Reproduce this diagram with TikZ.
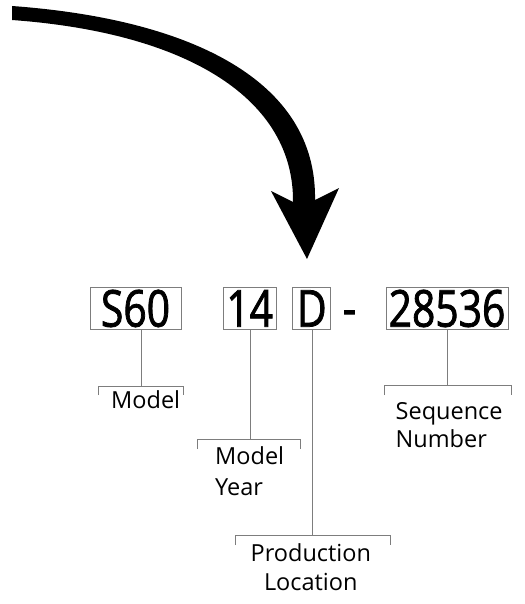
\documentclass[tikz,border=0pt]{standalone}
\usepackage{fontspec}
\setmainfont{Open Sans}
\newfontfamily\digitfont[FakeStretch=0.8, FakeBold=1.5]{Open Sans}
\definecolor{linegray}{RGB}{125,125,125}
\begin{document}
\begin{tikzpicture}[x=1pt,y=-1pt,
  codebox/.style={draw=linegray, line width=1pt, inner sep=0pt, text height=36.4pt, text depth=0pt,
     font=\digitfont\fontsize{51}{51}\selectfont, text=black},
  labeltext/.style={inner sep=0pt, font=\fontsize{23.5}{28}\selectfont, text=black},
  bracketline/.style={draw=linegray, line width=1pt}]
\useasboundingbox (0,0) rectangle (524,604);

% big curved arrow
\fill[black] (12,6) .. controls (190,19) and (317,80) .. (315,200)
  -- (339,188) -- (307,259) -- (271,191) -- (293,202)
  .. controls (294,100) and (190,33) .. (12,20) -- cycle;

% code boxes
\node[codebox, minimum width=91pt, minimum height=41.6pt] (s60) at (135.5,308.5) {S60};
\node[codebox, minimum width=52.7pt, minimum height=41.6pt] (yr) at (249.7,308.5) {14};
\node[codebox, minimum width=38.3pt, minimum height=41.6pt] (loc) at (311.8,308.5) {D};
\node[inner sep=0pt, anchor=base, font=\digitfont\fontsize{51}{51}\selectfont] (dash) at (349.5,326) {-};
\node[codebox, minimum width=122pt, minimum height=41.6pt] (seq) at (447,308.5) {28536};

% bracket centres
\coordinate (bm) at (141,386.7);
\coordinate (by) at (250.3,439.3);
\coordinate (bp) at (312.3,535);
\coordinate (bs) at (447.7,385);

% stems
\draw[bracketline] (s60.south -| bm) -- (bm);
\draw[bracketline] (yr.south -| by) -- (by);
\draw[bracketline] (loc.south -| bp) -- (bp);
\draw[bracketline] (seq.south -| bs) -- (bs);

% brackets
\draw[bracketline] (98.3,395) -- (98.3,386.7) -- (183.3,386.7) -- (183.3,395);
\draw[bracketline] (197.3,449) -- (197.3,439.3) -- (300.3,439.3) -- (300.3,449);
\draw[bracketline] (235,545) -- (235,535) -- (390,535) -- (390,545);
\draw[bracketline] (384.3,395) -- (384.3,385) -- (511.7,385) -- (511.7,395);

% labels
\node[labeltext, anchor=base west] (lm) at (111,408.3) {Model};
\node[labeltext, anchor=base west] (ly1) at (215,464) {Model};
\node[labeltext, anchor=base west] (ly2) at (215,495) {Year};
\node[labeltext, anchor=base] (lp1) at (310.8,561) {Production};
\node[labeltext, anchor=base] (lp2) at (310.8,590.7) {Location};
\node[labeltext, anchor=base west] (ls1) at (395.5,419.3) {Sequence};
\node[labeltext, anchor=base west] (ls2) at (395.5,447.7) {Number};
\end{tikzpicture}
\end{document}
